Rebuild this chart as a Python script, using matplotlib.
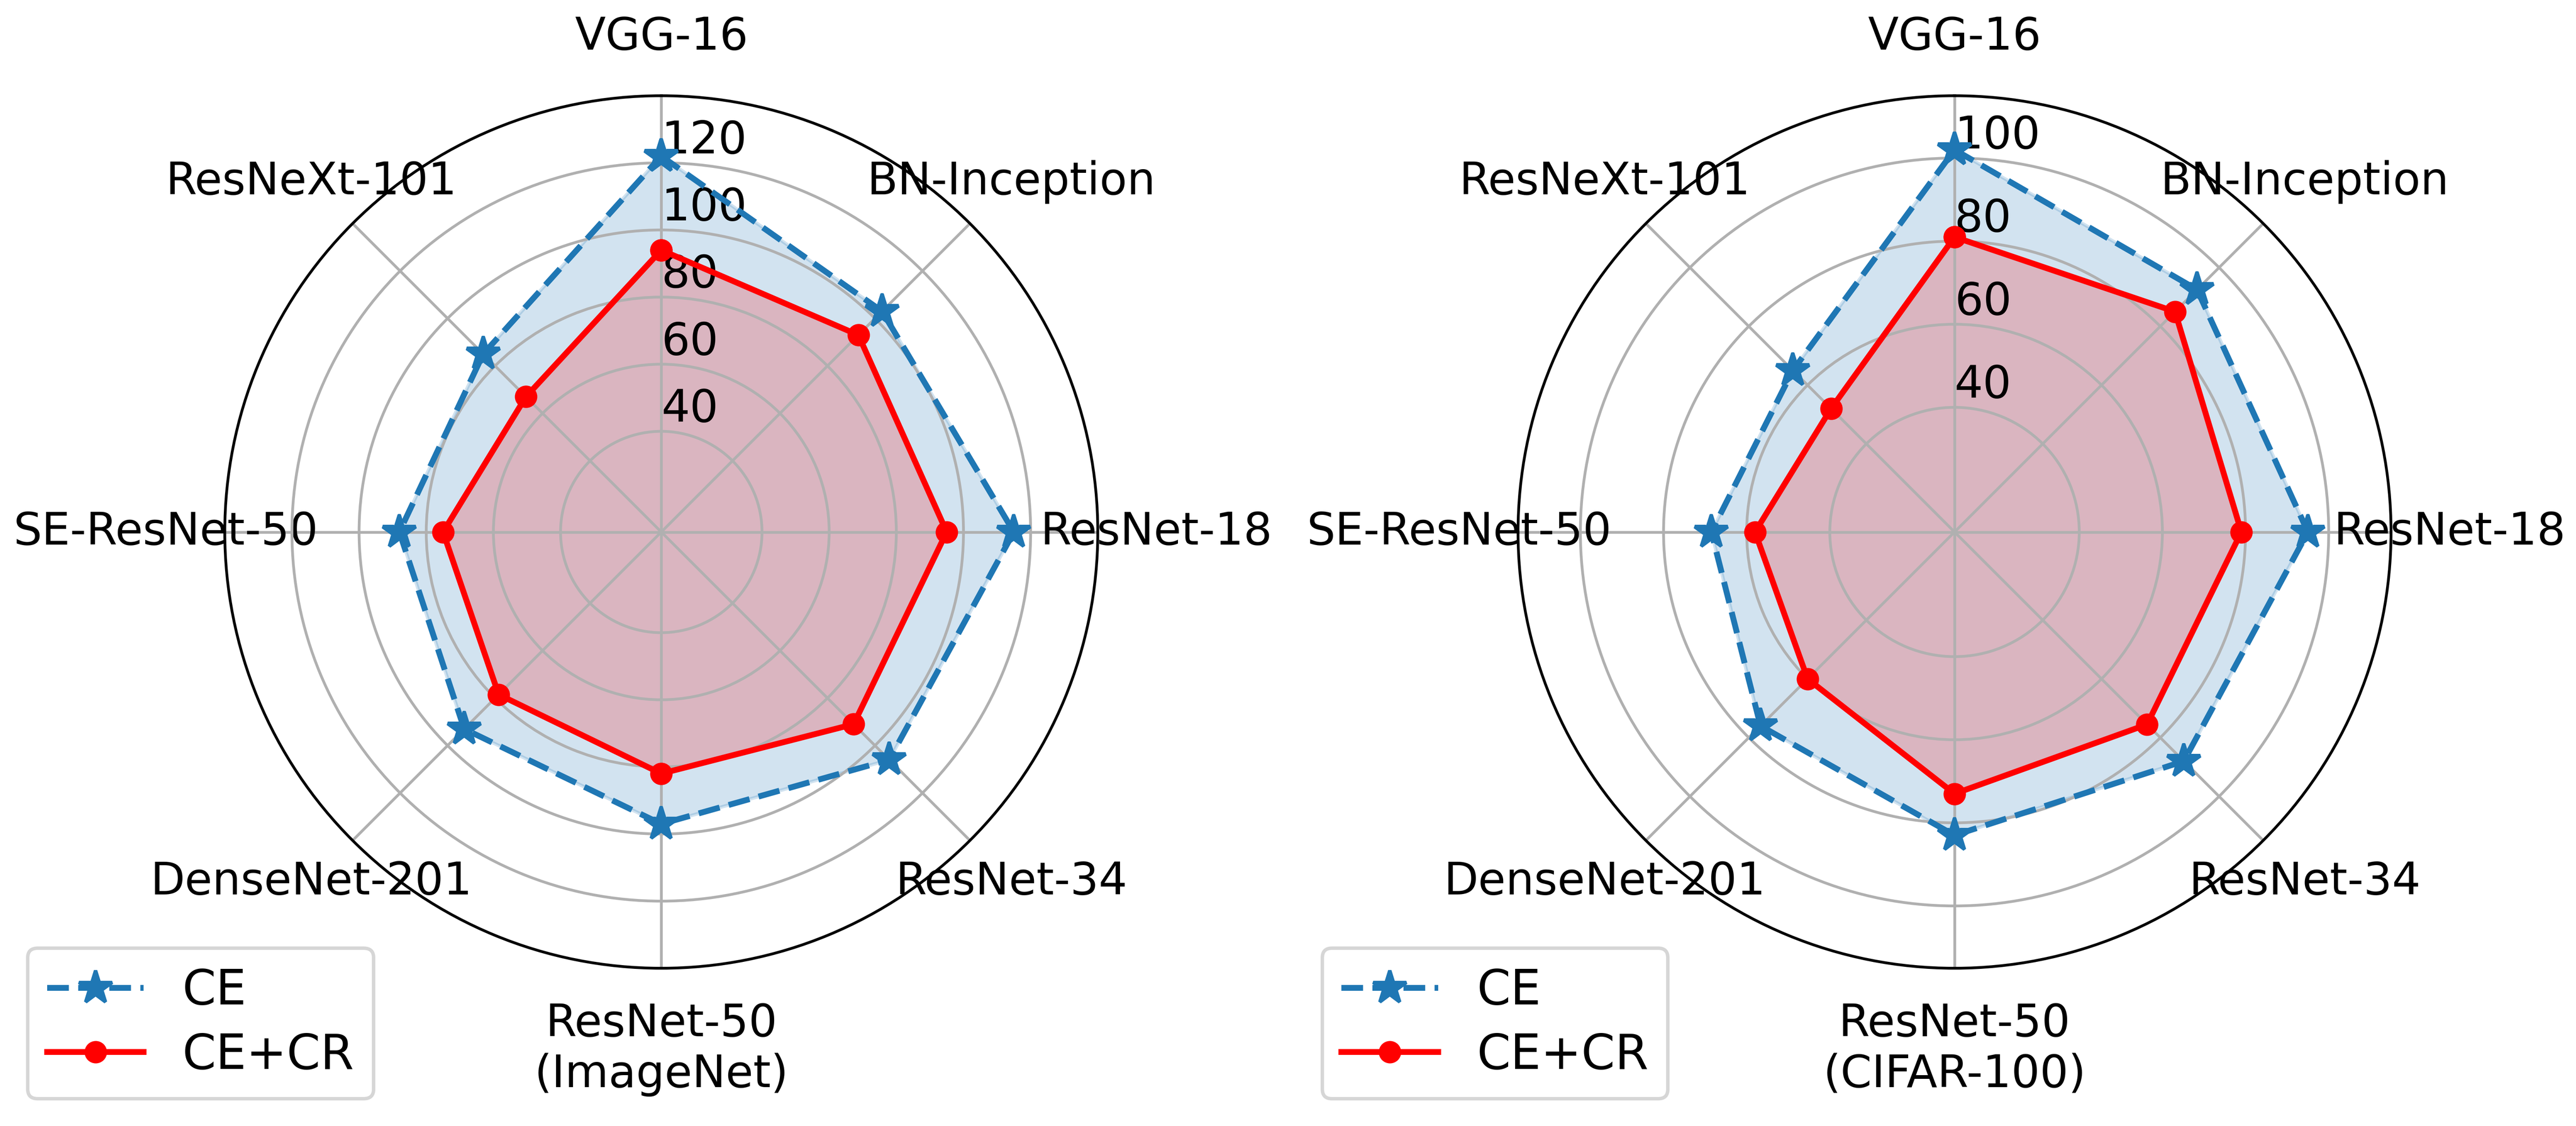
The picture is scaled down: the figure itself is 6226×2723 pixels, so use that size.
import numpy as np
import matplotlib.pyplot as plt
from matplotlib.transforms import ScaledTranslation

models = ['VGG-16', 'BN-Inception', 'ResNet-18', 'ResNet-34', 'ResNet-50',
          'DenseNet-201', 'SE-ResNet-50', 'ResNeXt-101']

# ImageNet results
imagenet_ce = [122, 103, 115, 106, 97, 93, 88, 85]
imagenet_cr = [94, 93, 95, 91, 82, 78.5, 75, 67]
imagenet_rticks = [40, 60, 80, 100, 120]

# CIFAR-100 results
cifar_ce = [102, 92.5, 95, 88, 83, 76, 68.5, 65]
cifar_cr = [81, 85, 79, 75.5, 73, 60, 58, 52]
cifar_rticks = [40, 60, 80, 100]


def radar(ax, ce, cr, dataset, rticks, rmax, legend_xy):
    '''
    Draws one radar chart comparing CE and CE+CR over the backbones.
    '''
    angles = np.linspace(0, 2 * np.pi, len(models), endpoint=False)
    angles = np.concatenate([angles, angles[:1]])
    ce = ce + ce[:1]
    cr = cr + cr[:1]

    ax.set_theta_offset(np.pi / 2)
    ax.set_theta_direction(-1)

    ax.plot(angles, ce, color='#1f77b4', linestyle='--', linewidth=1.7,
            marker='*', markersize=10, label='CE')
    ax.fill(angles, ce, color='#1f77b4', alpha=0.2)
    ax.plot(angles, cr, color='red', linewidth=1.7, marker='o',
            markersize=5.5, label='CE+CR')
    ax.fill(angles, cr, color='red', alpha=0.2)

    labels = list(models)
    labels[4] = 'ResNet-50\n(' + dataset + ')'
    ax.set_xticks(angles[:-1])
    ax.set_xticklabels(labels)
    ax.tick_params(axis='x', pad=6.5, labelsize=13)
    # the two-line label hangs below its anchor, nudged up a little
    lab = ax.get_xticklabels()[4]
    lab.set_va('top')
    lab.set_transform(lab.get_transform() +
                      ScaledTranslation(0, 0.1, ax.figure.dpi_scale_trans))

    ax.set_ylim(10, rmax)
    ax.set_yticks(rticks)
    ax.set_yticklabels([str(t) for t in rticks])
    ax.set_rlabel_position(0)
    ax.tick_params(axis='y', labelsize=13)

    ax.legend(loc='upper left', bbox_to_anchor=legend_xy,
              bbox_transform=ax.figure.transFigure, borderaxespad=0,
              fontsize=14, labelspacing=0.35)


fig = plt.figure(figsize=(6226 / 600, 2723 / 600), dpi=600)
ax1 = fig.add_axes([0.08726, 0.14010, 0.33890, 0.77488], projection='polar')
ax2 = fig.add_axes([0.58930, 0.14010, 0.33890, 0.77488], projection='polar')

radar(ax1, imagenet_ce, imagenet_cr, 'ImageNet', imagenet_rticks, 140, (0.0108, 0.158))
radar(ax2, cifar_ce, cifar_cr, 'CIFAR-100', cifar_rticks, 115, (0.5133, 0.158))

fig.savefig('out.png', dpi=600)
